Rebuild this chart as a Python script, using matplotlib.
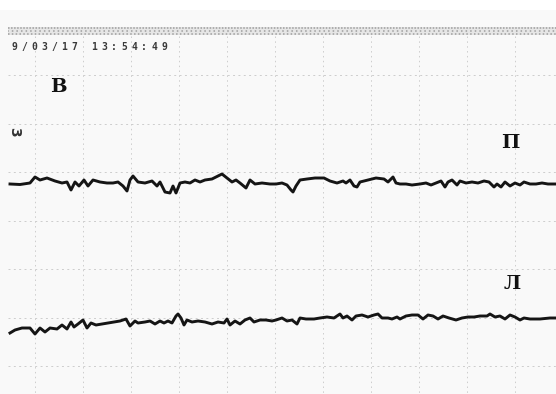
import matplotlib
matplotlib.use("Agg")
import matplotlib.pyplot as plt

# Upper trace (П): x, y in image pixel coordinates
upper_x = [10, 20, 30, 35, 40, 47, 55, 62, 67, 71, 75, 79, 84, 88, 93, 100, 107, 113, 118, 123,
           127, 130, 133, 138, 145, 152, 157, 160, 165, 170, 173, 176, 180, 185, 190, 195, 200,
           205, 212, 218, 222, 227, 232, 236, 240, 246, 250, 255, 262, 270, 276, 282, 287, 291,
           293, 296, 300, 307, 315, 324, 330, 337, 343, 346, 350, 354, 357, 360, 368, 376, 384,
           388, 393, 396, 400, 406, 412, 420, 426, 431, 436, 441, 445, 448, 452, 457, 460, 466,
           472, 478, 484, 489, 494, 497, 501, 505, 510, 515, 520, 524, 530, 536, 542, 548, 556]
upper_y = [184, 184.5, 183, 177, 180, 178, 181, 183, 182, 190, 182, 186, 180, 186, 180, 182, 183,
           183, 182, 186, 191, 180, 176, 182, 183, 181, 186, 182, 192, 193, 186, 193, 183, 182,
           183, 180, 182, 180, 179, 176, 174, 178, 182, 180, 183, 188, 180, 184, 183, 184, 184,
           183, 185, 190, 192, 186, 180, 179, 178, 178, 181, 183, 181, 183, 180, 186, 187, 182,
           180, 178, 179, 182, 177, 183, 184, 184, 185, 184, 183, 185, 183, 181, 187, 182, 180,
           185, 181, 183, 182, 183, 181, 182, 187, 184, 187, 182, 186, 183, 185, 182, 184, 184,
           183, 184, 184]

# Lower trace (Л)
lower_x = [10, 15, 22, 30, 35, 40, 45, 50, 57, 62, 67, 71, 74, 78, 83, 87, 91, 96, 102, 108, 114,
           120, 126, 130, 135, 138, 145, 150, 155, 160, 164, 168, 172, 176, 178, 181, 184, 187,
           192, 198, 205, 212, 218, 224, 227, 230, 235, 240, 245, 250, 254, 260, 266, 272, 276,
           282, 287, 292, 297, 300, 306, 314, 320, 327, 334, 340, 343, 347, 352, 356, 362, 368,
           374, 378, 382, 388, 392, 397, 400, 406, 412, 418, 423, 428, 433, 438, 443, 449, 456,
           462, 468, 474, 480, 487, 490, 495, 500, 505, 510, 515, 520, 524, 530, 540, 550, 556]
lower_y = [333, 330, 328, 328, 334, 328, 332, 328, 329, 325, 329, 322, 327, 324, 320, 328, 323,
           325, 324, 323, 322, 321, 319, 326, 321, 323, 322, 321, 324, 321, 323, 321, 323, 316,
           314, 318, 325, 320, 322, 321, 322, 324, 322, 323, 319, 325, 321, 324, 320, 318, 322,
           320, 320, 321, 320, 318, 321, 320, 324, 318, 319, 319, 318, 317, 318, 314, 318, 316,
           320, 316, 315, 317, 315, 314, 318, 318, 319, 317, 319, 316, 315, 315, 319, 315, 316,
           319, 316, 318, 320, 318, 317, 317, 316, 316, 314, 317, 316, 319, 315, 317, 320, 318,
           319, 319, 318, 318]

grid_x = [35, 83, 131, 179, 227, 275, 323, 371, 419, 467, 515]
grid_y = [75, 123.5, 172, 220.5, 269, 317.5, 366]

timestamp = "9/03/17 13:54:49"
label_top = "В"
label_p = "П"
label_l = "Л"

fig = plt.figure(figsize=(5.56, 3.94), dpi=100)
fig.patch.set_facecolor("white")
ax = fig.add_axes([0, 0, 1, 1])
ax.set_xlim(0, 556)
ax.set_ylim(394, 0)
ax.axis("off")

# paper
ax.axhspan(10, 394, color="#f9f9f9", zorder=0, lw=0)

# top perforation-like band
ax.axhspan(27, 35, xmin=8 / 556, xmax=1, color="#e6e6e6", zorder=1, lw=0)
for yy, st in ((28.0, (0, (1, 1))), (30.5, (0.5, (1, 2))), (33.5, (0, (1, 1.5)))):
    ax.plot([8, 556], [yy, yy], color="#9e9e9e", lw=1.1, ls=st, zorder=1)

# grid
for gx in grid_x:
    ax.plot([gx, gx], [36, 394], color="#cdcdcd", lw=0.7, ls=(0, (1.5, 3.5)), zorder=1)
for gy in grid_y:
    ax.plot([8, 556], [gy, gy], color="#cdcdcd", lw=0.7, ls=(0, (2, 3.5)), zorder=1)

# timestamp (printed character by character, monospace spacing)
for i, ch in enumerate(timestamp):
    ax.text(10 + i * 10 + 4, 47, ch, fontsize=7, fontweight="bold", family="DejaVu Sans Mono",
            color="#3a3a3a", ha="center", va="center", zorder=3)

ax.text(58, 87, label_top, fontsize=14, fontweight="bold", family="DejaVu Serif",
        color="#111111", ha="center", va="center", zorder=3)
ax.text(510, 143, label_p, fontsize=14, fontweight="bold", family="DejaVu Serif",
        color="#111111", ha="center", va="center", zorder=3)
ax.text(512, 284, label_l, fontsize=14, fontweight="bold", family="DejaVu Serif",
        color="#111111", ha="center", va="center", zorder=3)
ax.text(14, 132, "3", fontsize=10, fontweight="bold", rotation=-90, color="#333333",
        ha="center", va="center", zorder=3)

ax.plot(upper_x, upper_y, color="#151515", lw=2.1, solid_joinstyle="round", zorder=4)
ax.plot(lower_x, lower_y, color="#151515", lw=2.1, solid_joinstyle="round", zorder=4)

fig.savefig("out.png", dpi=100, facecolor="white")
